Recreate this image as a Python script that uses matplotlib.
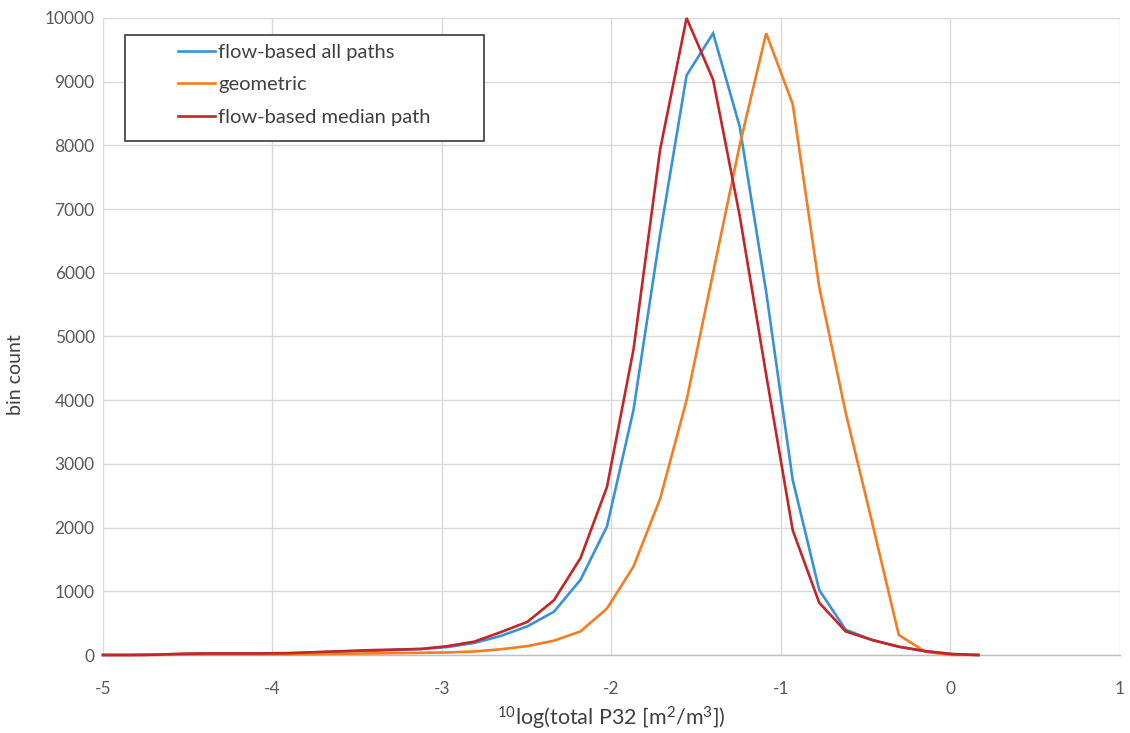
import matplotlib
matplotlib.use("Agg")
import matplotlib.pyplot as plt
from matplotlib.patches import Rectangle

plt.rcParams['font.family'] = ['Lato', 'DejaVu Sans']
plt.rcParams['mathtext.fontset'] = 'custom'
plt.rcParams['mathtext.rm'] = 'Lato'
plt.rcParams['mathtext.it'] = 'Lato:italic'
plt.rcParams['mathtext.bf'] = 'Lato:bold'

# bin centres of 10log(total P32)
log_p32 = [-5.0, -4.8435, -4.687, -4.5305, -4.374, -4.2175, -4.061, -3.9045,
           -3.748, -3.5915, -3.435, -3.2785, -3.122, -2.9655, -2.809, -2.6525,
           -2.496, -2.3395, -2.183, -2.0265, -1.87, -1.7135, -1.557, -1.4005,
           -1.244, -1.0875, -0.931, -0.7745, -0.618, -0.4615, -0.305, -0.1485,
           0.008, 0.1645]

flow_all = [0, 0, 5, 15, 20, 20, 20, 25, 40, 55, 65, 80, 95, 125, 190, 300,
            450, 680, 1180, 2020, 3850, 6600, 9100, 9760, 8300, 5700, 2750,
            1020, 395, 235, 130, 60, 15, 0]
geometric = [0, 0, 0, 5, 10, 10, 10, 10, 15, 20, 25, 30, 35, 40, 55, 90,
             140, 225, 370, 730, 1390, 2450, 4000, 6000, 8000, 9760, 8650,
             5780, 3800, 2070, 314, 50, 0, 0]
flow_median = [0, 0, 5, 20, 25, 25, 25, 30, 45, 60, 75, 85, 95, 140, 210, 360,
               520, 860, 1520, 2640, 4800, 7930, 10000, 9030, 6900, 4400, 1960,
               820, 370, 235, 130, 60, 15, 0]

series_labels = ['flow-based all paths', 'geometric', 'flow-based median path']
series_colors = ['#3a92d6', '#f27d22', '#c2252a']

x_ticks = [-5, -4, -3, -2, -1, 0, 1]
y_ticks = [0, 1000, 2000, 3000, 4000, 5000, 6000, 7000, 8000, 9000, 10000]

fig = plt.figure(figsize=(11.30, 7.33), dpi=100)
ax = fig.add_axes([103 / 1130, 1 - 655 / 733, (1120 - 103) / 1130, (655 - 18) / 733])

handles = []
for ys, lab, col in zip([flow_all, geometric, flow_median], series_labels, series_colors):
    h, = ax.plot(log_p32, ys, color=col, lw=1.9, label=lab, clip_on=False,
                 solid_joinstyle='miter', zorder=3)
    handles.append(h)

ax.set_xlim(-5, 1)
ax.set_ylim(0, 10000)
ax.set_xticks(x_ticks)
ax.set_yticks(y_ticks)
ax.set_xticklabels([str(t) for t in x_ticks])
ax.set_yticklabels([str(t) for t in y_ticks])
ax.grid(True, color='#d9d9d9', lw=1.0, zorder=0)
ax.set_axisbelow(True)
for s in ['top', 'right', 'left']:
    ax.spines[s].set_visible(False)
ax.spines['bottom'].set_color('#bfbfbf')
ax.spines['bottom'].set_linewidth(1.0)
ax.tick_params(axis='both', length=0, labelsize=12.5, labelcolor='#595959')
ax.tick_params(axis='x', pad=19)
ax.tick_params(axis='y', pad=6)

ax.set_ylabel('bin count', fontsize=14, color='#404040', labelpad=10)
ax.yaxis.set_label_coords(-0.078, 0.44)
ax.set_xlabel(r'$\mathregular{^{10}}$log(total P32 [m$\mathregular{^{2}}$/m$\mathregular{^{3}}$])',
              fontsize=15.5, color='#404040', labelpad=5)

# legend box
fig.patches.append(Rectangle((125 / 1130, 1 - 141 / 733), (484 - 125) / 1130, (141 - 35) / 733,
                             transform=fig.transFigure, facecolor='white',
                             edgecolor='#3a3a3a', lw=1.2, zorder=5))
leg = fig.legend(handles=handles, loc='upper left',
                 bbox_to_anchor=(170 / 1130, 1 - 36 / 733), frameon=False,
                 fontsize=14.5, handlelength=1.85, handletextpad=0.15,
                 labelspacing=0.75, borderaxespad=0)
for t in leg.get_texts():
    t.set_color('#404040')
leg.set_zorder(6)

fig.savefig('out.png', dpi=100)
